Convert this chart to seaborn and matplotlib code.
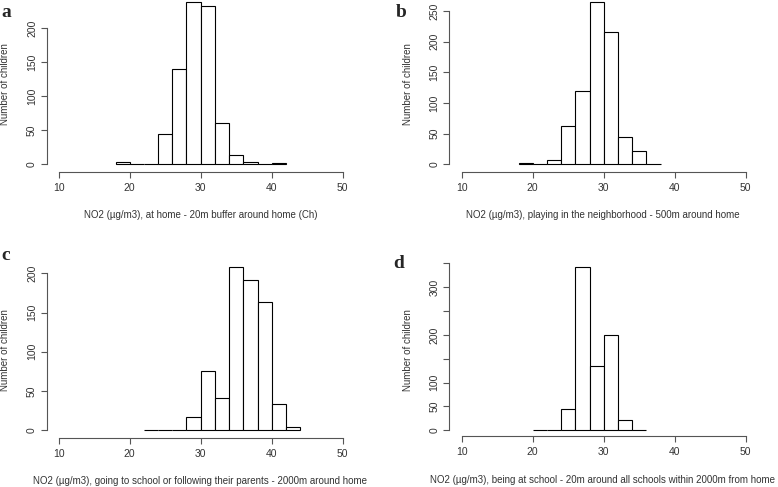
import matplotlib
matplotlib.use("Agg")
import matplotlib.pyplot as plt
import numpy as np
import pandas as pd
import seaborn as sns

# histogram counts, bins are 2 ug/m3 wide
edges_a = [18, 20, 22, 24, 26, 28, 30, 32, 34, 36, 38, 40, 42]
counts_a = [3, 0, 1, 45, 140, 238, 233, 60, 14, 3, 1, 2]

edges_b = [18, 20, 22, 24, 26, 28, 30, 32, 34, 36, 38]
counts_b = [2, 1, 7, 62, 120, 265, 215, 44, 21, 1]

edges_c = [22, 24, 26, 28, 30, 32, 34, 36, 38, 40, 42, 44]
counts_c = [1, 1, 1, 17, 76, 41, 208, 192, 163, 33, 4]

edges_d = [20, 22, 24, 26, 28, 30, 32, 34, 36]
counts_d = [0, 0, 44, 342, 134, 199, 21, 0]

xlabels = [
    "NO2 (\u00b5g/m3), at home - 20m buffer around home (Ch)",
    "NO2 (\u00b5g/m3), playing in the neighborhood - 500m around home",
    "NO2 (\u00b5g/m3), going to school or following their parents - 2000m around home",
    "NO2 (\u00b5g/m3), being at school - 20m around all schools within 2000m from home",
]
letters = ["a", "b", "c", "d"]
yticks = [[0, 50, 100, 150, 200], [0, 50, 100, 150, 200, 250],
          [0, 50, 100, 150, 200], [0, 50, 100, 150, 200, 250, 300, 350]]
yticklabels = [["0", "50", "100", "150", "200"],
               ["0", "50", "100", "150", "200", "250"],
               ["0", "50", "100", "150", "200"],
               ["0", "50", "100", "", "200", "", "300", ""]]

sns.set_style("white")
plt.rcParams['font.family'] = ['Liberation Sans', 'DejaVu Sans']

W, H = 778, 487
fig = plt.figure(figsize=(W / 100, H / 100), dpi=100)

# pixel layout of each panel: left spine x, bottom spine y, x of 10, x of 50,
# y of 0, (y pixel, value) of a reference tick, top value of the y range
layout = [
    (46.7, 172.3, 58.7, 342.7, 164.3, (28.0, 200), 241),
    (449.0, 172.3, 461.7, 745.7, 164.3, (11.0, 250), 268),
    (46.7, 438.0, 58.7, 342.7, 430.3, (273.3, 200), 216),
    (449.0, 436.3, 461.7, 745.7, 430.3, (287.3, 300), 356),
]
label_pos = [(5, 84, 201, 215, 1, 17), (408, 84, 603, 215, 396, 17),
             (5, 350, 200, 481, 1, 260), (408, 350, 603, 480, 393, 268)]

data = [(edges_a, counts_a), (edges_b, counts_b), (edges_c, counts_c), (edges_d, counts_d)]
axis_col = "#555555"
text_col = "#333333"

for i, (edges, counts) in enumerate(data):
    left, bottom, x10, x50, y0, (yref_px, yref_val), ytop = layout[i]
    xper = (x50 - x10) / 40.0
    yper = (y0 - yref_px) / yref_val
    xlo = 10 - (x10 - left) / xper
    xhi = 51.6
    ylo = -(bottom - y0) / yper
    right = x10 + (xhi - 10) * xper
    top = y0 - ytop * yper
    ax = fig.add_axes([left / W, (H - bottom) / H, (right - left) / W, (bottom - top) / H])
    ax.patch.set_alpha(0)

    mids = [(lo + hi) / 2 for lo, hi in zip(edges[:-1], edges[1:])]
    df = pd.DataFrame({"no2": mids, "n": counts})
    sns.histplot(data=df, x="no2", weights="n", bins=list(edges), ax=ax, color="white",
                 edgecolor="black", linewidth=0.8, alpha=1)

    ax.set_xlim(xlo, xhi)
    ax.set_ylim(ylo, ytop)
    ax.set_xticks([10, 20, 30, 40, 50])
    ax.set_yticks(yticks[i])
    ax.set_yticklabels(yticklabels[i], rotation=90, va="center")
    for s in ["top", "right"]:
        ax.spines[s].set_visible(False)
    ax.spines["left"].set_bounds(0, yticks[i][-1])
    ax.spines["bottom"].set_bounds(10, 50)
    for s in ["left", "bottom"]:
        ax.spines[s].set_color(axis_col)
        ax.spines[s].set_linewidth(0.8)
    ax.tick_params(direction="out", length=4, width=0.8, color=axis_col,
                   labelcolor=text_col, labelsize=7.5, bottom=True, left=True)
    ax.tick_params(axis="x", pad=4)
    ax.tick_params(axis="y", pad=3)
    ax.set_xlabel("")
    ax.set_ylabel("")

    ylx, yly, xlx, xly, ltx, lty = label_pos[i]
    fig.text(ylx / W, 1 - yly / H, "Number of children", rotation=90,
             ha="center", va="center", fontsize=7, color=text_col)
    fig.text(xlx / W, 1 - xly / H, xlabels[i], ha="center", va="center",
             fontsize=7, color=text_col)
    fig.text(ltx / W, 1 - lty / H, letters[i], ha="left", va="baseline",
             fontsize=14, fontweight="bold", family=["Liberation Serif", "DejaVu Serif"])

fig.savefig("out.png", dpi=100)
